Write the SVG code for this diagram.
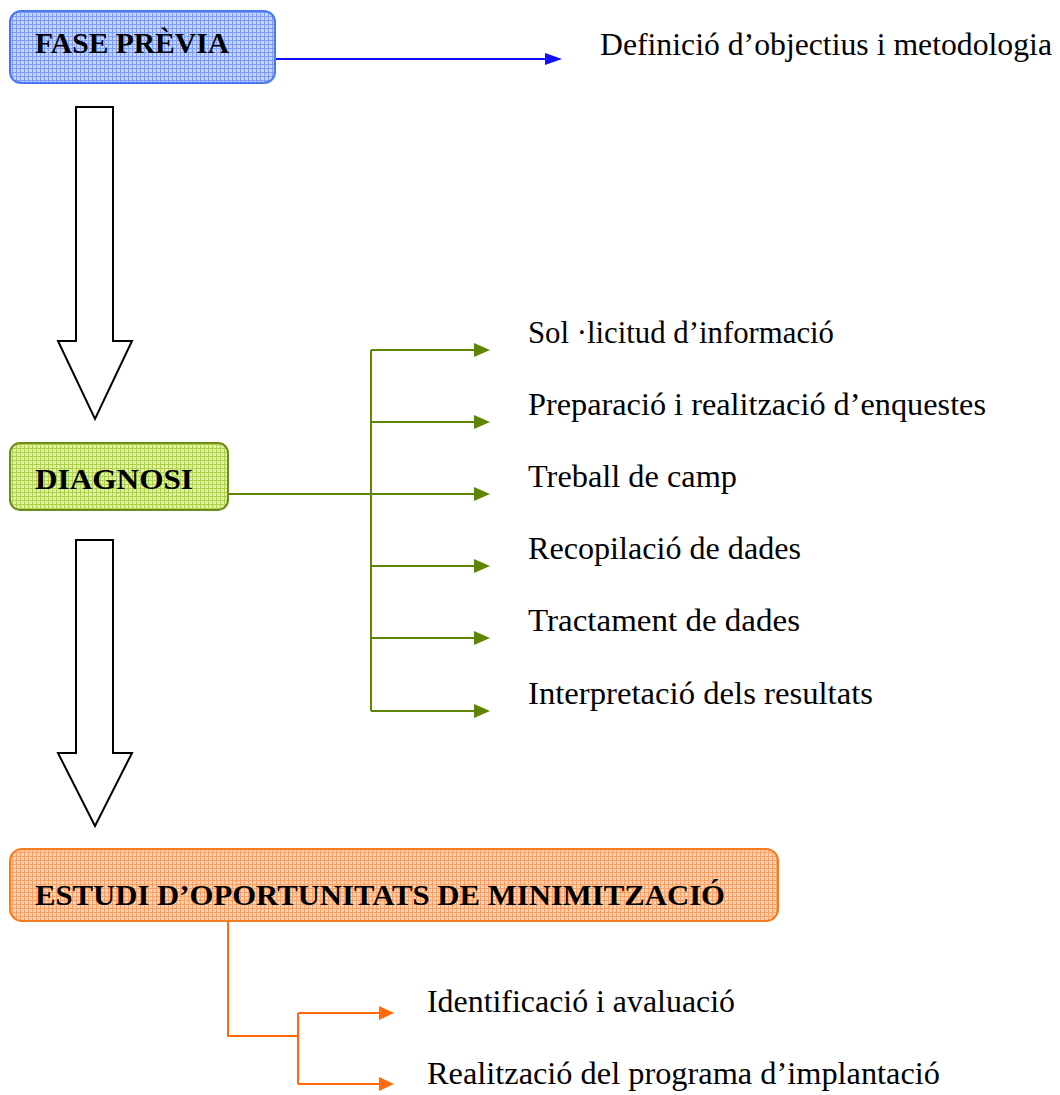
<svg xmlns="http://www.w3.org/2000/svg" width="1060" height="1095" viewBox="0 0 1060 1095">
  <style>
    .t { font-family: "Liberation Serif", "Times New Roman", serif; font-size: 31px; fill: #000; }
    .b { font-weight: bold; font-size: 29px; }
    .blk { fill: #fff; stroke: #000; stroke-width: 2; }
    .gl { stroke: #5f8400; stroke-width: 2; fill: none; }
    .ol { stroke: #ff6a0a; stroke-width: 2; fill: none; }
    .bl { stroke: #1010ff; stroke-width: 2; fill: none; }
  </style>
  <defs>
    <pattern id="pBlue" width="4" height="4" patternUnits="userSpaceOnUse">
      <rect width="4" height="4" fill="#c4d4ff"/>
      <path d="M0 0.5H4M0.5 0V4" stroke="#7b9cf2" stroke-width="1"/>
    </pattern>
    <pattern id="pGreen" width="4" height="4" patternUnits="userSpaceOnUse">
      <rect width="4" height="4" fill="#e0f0a8"/>
      <path d="M0 0.5H4M0.5 0V4" stroke="#aed04a" stroke-width="1"/>
    </pattern>
    <pattern id="pOrange" width="4" height="4" patternUnits="userSpaceOnUse">
      <rect width="4" height="4" fill="#fdd2b0"/>
      <path d="M0 0.5H4M0.5 0V4" stroke="#f8a066" stroke-width="1"/>
    </pattern>
  </defs>

  <g id="connectors">
    <!-- blue -->
    <line class="bl" x1="276" y1="59" x2="548" y2="59"/>
    <polygon points="545,53 562,59 545,65" fill="#1010ff"/>
    <!-- block arrows -->
    <polygon class="blk" points="76,107 113,107 113,341 132,341 95,419 58,341 76,341"/>
    <polygon class="blk" points="76,540 113,540 113,753 132,753 95,826 58,753 76,753"/>
    <!-- green -->
    <path class="gl" d="M228 494H371M371 350V711"/>
    <g fill="#5f8400">
      <line class="gl" x1="371" y1="350" x2="476" y2="350"/>
      <polygon points="474,343 490,350 474,357"/>
      <line class="gl" x1="371" y1="422" x2="476" y2="422"/>
      <polygon points="474,415 490,422 474,429"/>
      <line class="gl" x1="371" y1="494" x2="476" y2="494"/>
      <polygon points="474,487 490,494 474,501"/>
      <line class="gl" x1="371" y1="566" x2="476" y2="566"/>
      <polygon points="474,559 490,566 474,573"/>
      <line class="gl" x1="371" y1="638" x2="476" y2="638"/>
      <polygon points="474,631 490,638 474,645"/>
      <line class="gl" x1="371" y1="711" x2="476" y2="711"/>
      <polygon points="474,704 490,711 474,718"/>
    </g>
    <!-- orange -->
    <path class="ol" d="M228 921V1036H298M298 1013V1084"/>
    <g fill="#ff6a0a">
      <line class="ol" x1="298" y1="1013" x2="381" y2="1013"/>
      <polygon points="379,1006 394,1013 379,1020"/>
      <line class="ol" x1="298" y1="1084" x2="381" y2="1084"/>
      <polygon points="379,1077 394,1084 379,1091"/>
    </g>
  </g>

  <g id="fase-previa">
    <rect x="10" y="11" width="265" height="72" rx="11" fill="url(#pBlue)" stroke="#4a78f0" stroke-width="2"/>
    <text class="t b" x="35" y="53" textLength="194" lengthAdjust="spacingAndGlyphs">FASE PRÈVIA</text>
  </g>
  <g id="definicio">
    <text class="t" x="600" y="55" textLength="452" lengthAdjust="spacingAndGlyphs">Definició d’objectius i metodologia</text>
  </g>

  <g id="diagnosi">
    <rect x="10" y="443" width="218" height="67" rx="10" fill="url(#pGreen)" stroke="#6f8c1e" stroke-width="2"/>
    <text class="t b" x="35" y="489" textLength="158" lengthAdjust="spacingAndGlyphs">DIAGNOSI</text>
  </g>
  <g id="sollicitud"><text class="t" x="528" y="343" textLength="306" lengthAdjust="spacingAndGlyphs">Sol ·licitud d’informació</text></g>
  <g id="preparacio"><text class="t" x="528" y="415" textLength="458" lengthAdjust="spacingAndGlyphs">Preparació i realització d’enquestes</text></g>
  <g id="treball"><text class="t" x="528" y="487" textLength="209" lengthAdjust="spacingAndGlyphs">Treball de camp</text></g>
  <g id="recopilacio"><text class="t" x="528" y="559" textLength="273" lengthAdjust="spacingAndGlyphs">Recopilació de dades</text></g>
  <g id="tractament"><text class="t" x="528" y="631" textLength="272" lengthAdjust="spacingAndGlyphs">Tractament de dades</text></g>
  <g id="interpretacio"><text class="t" x="528" y="704" textLength="345" lengthAdjust="spacingAndGlyphs">Interpretació dels resultats</text></g>

  <g id="estudi">
    <rect x="10" y="849" width="768" height="72" rx="12" fill="url(#pOrange)" stroke="#f57a20" stroke-width="2"/>
    <text class="t b" x="35" y="905" textLength="690" lengthAdjust="spacingAndGlyphs">ESTUDI D’OPORTUNITATS DE MINIMITZACIÓ</text>
  </g>
  <g id="identificacio"><text class="t" x="427" y="1012" textLength="308" lengthAdjust="spacingAndGlyphs">Identificació i avaluació</text></g>
  <g id="realitzacio"><text class="t" x="427" y="1084" textLength="513" lengthAdjust="spacingAndGlyphs">Realització del programa d’implantació</text></g>
</svg>
